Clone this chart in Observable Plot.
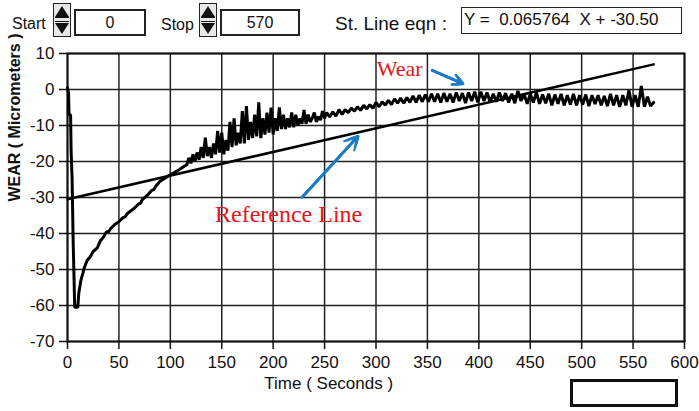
<!DOCTYPE html>
<html>
<head>
<meta charset="utf-8">
<script src="https://cdn.jsdelivr.net/npm/d3@7"></script>
<script src="https://cdn.jsdelivr.net/npm/@observablehq/plot@0.6"></script>
<style>
  html, body { margin: 0; padding: 0; background: #fff; }
  #wrap { position: relative; width: 699px; height: 411px; overflow: hidden; background: #fff; }
  .lab { position: absolute; font-family: "Liberation Sans", Arial, sans-serif; font-size: 16px; line-height: 16px; color: #111; white-space: pre; }
  .box { position: absolute; box-sizing: border-box; border: 2px solid #222; background: #fff;
         font-family: "Liberation Sans", Arial, sans-serif; font-size: 16px; color: #111;
         display: flex; align-items: center; justify-content: center; }
  .spin { position: absolute; box-sizing: border-box; width: 18px; height: 34px; border: 1.5px solid #222; background: #e8e8e8; }
  .spin .up { position: absolute; left: 1px; top: 2px; width: 0; height: 0; border-left: 7px solid transparent; border-right: 7px solid transparent; border-bottom: 11px solid #111; }
  .spin .dn { position: absolute; left: 1px; bottom: 2px; width: 0; height: 0; border-left: 7px solid transparent; border-right: 7px solid transparent; border-top: 11px solid #111; }
  .spin .mid { position: absolute; left: 1px; right: 1px; top: 13px; height: 3px; border-top: 1.5px solid #111; border-bottom: 1.5px solid #111; }
  #eqn { position: absolute; left: 461px; top: 7px; width: 221px; height: 27px; box-sizing: border-box; border: 1.5px solid #222;
         font-family: "Liberation Sans", Arial, sans-serif; font-size: 17px; line-height: 24px; padding-left: 2px; white-space: pre; color: #111; }
  #plot { position: absolute; left: 0; top: 45px; }
  #blank { position: absolute; left: 570px; top: 379px; width: 108px; height: 28px; box-sizing: border-box; border: 3px solid #111; background: #fff; }
</style>
</head>
<body>
<div id="wrap">
  <div class="lab" style="left:12px;top:16px;">Start</div>
  <div class="spin" style="left:53px;top:3px;"><div class="up"></div><div class="mid"></div><div class="dn"></div></div>
  <div class="box" style="left:74px;top:9px;width:72px;height:27px;" id="startBox"></div>
  <div class="lab" style="left:161px;top:17px;">Stop</div>
  <div class="spin" style="left:199px;top:3px;"><div class="up"></div><div class="mid"></div><div class="dn"></div></div>
  <div class="box" style="left:220px;top:9px;width:80px;height:27px;" id="stopBox"></div>
  <div class="lab" style="left:335px;top:14px;font-size:19px;line-height:19px;">St. Line eqn :</div>
  <div id="eqn"></div>
  <div id="plot"></div>
  <div id="blank"></div>
</div>
<script>
// ---- data ----
const startValue = "0";
const stopValue = "570";
const slope = "0.065764";
const intercept = "-30.50";

const xTicks = [0, 50, 100, 150, 200, 250, 300, 350, 400, 450, 500, 550, 600];
const yTicks = [-70, -60, -50, -40, -30, -20, -10, 0, 10];

// measured wear: [time (s), wear (µm)]
const wearPoints = [
  [0, 0.5], [1, -1], [1.5, -7], [3, -7], [3.5, -17], [4.5, -25], [5.5, -42], [7, -60.5], [10, -60.5],
  [11, -56.5], [13, -53], [15, -51], [16, -49.8], [19, -47.5], [22, -46.5], [25, -45], [29, -44], [32, -42],
  [35, -41], [38, -39.5], [40, -39.5], [42, -38.6], [46, -37.5], [50, -36.7], [54, -35.6], [56, -35.4], [58, -34.5], [62, -33.6],
  [65, -33], [69, -31.8], [71, -31.6], [73, -30.5], [78, -29.3], [82, -28], [84, -27.8], [86, -26.8], [90, -25.5], [94, -24.8],
  [98, -24], [103, -23.2], [108, -22.4], [112, -21.6], [116, -20.9],
  [118, -19], [120, -20.5], [122, -18], [124, -20], [126, -17.5], [128, -19.5], [130, -16], [132, -19],
  [134, -13.4], [136, -18.5], [138, -16], [140, -19], [142, -15], [144, -18], [146, -11.5], [148, -17.5],
  [150, -12], [152, -18], [154, -14], [156, -17], [158, -9], [160, -16], [162, -8], [164, -15.5],
  [166, -12], [168, -15], [170, -6], [172, -15], [174, -4.6], [176, -14], [178, -9], [180, -13.5],
  [182, -7], [184, -13], [186, -3.6], [188, -13.5], [190, -8], [192, -12.5], [194, -6.4], [196, -12],
  [198, -5], [200, -12.5], [202, -8], [204, -11.5], [206, -5], [208, -11], [210, -7], [212, -11],
  [214, -8], [216, -10.5], [218, -6.4], [220, -10.5], [222, -7], [224, -10], [226, -8], [228, -9.5],
  [230, -5.7], [232, -9.5], [234, -7], [236, -9], [238, -8], [240, -6.4], [242, -9], [244, -7.5],
  [246, -8.5], [248, -6], [250, -8], [252, -6.4], [255, -7.6], [258, -6.2], [261, -7.4], [264, -5.6],
  [267, -6.9], [270, -5.6], [273, -6.4], [276, -5.2], [279, -6], [282, -4.8], [285, -5.8], [288, -4.4],
  [291, -5.4], [294, -4.2], [297, -5.2], [300, -3.6], [303, -4.8], [306, -3.4], [309, -4.4], [312, -3],
  [315, -4.2], [318, -2.6], [321, -3.8], [324, -2.4], [327, -3.8], [330, -2.2], [333, -3.6], [336, -1.8],
  [339, -3.6], [342, -1.6], [345, -3.4], [348, -1.4], [351, -3.4], [354, -1.2], [357, -3.4],
  [360, -1.2], [363, -3.6], [366, -1], [369, -3.4], [372, -1.2], [375, -3.6], [378, -0.8], [381, -3.2],
  [384, -1], [387, -3.8], [390, -0.8], [393, -3.2], [396, -0.6], [399, -3.6], [402, -0.6], [405, -3.2],
  [408, -0.8], [411, -3.6], [414, -1.2], [417, -3.4], [420, -0.8], [423, -3.2], [426, -1], [429, -3.6],
  [432, -1.2], [435, -3.8], [438, -0.4], [441, -3.2], [444, -1.2], [447, -4], [450, -1.2], [453, -3.6],
  [456, -0.8], [459, -4], [462, -1.4], [465, -3.8], [468, -1.2], [471, -4.4], [474, -1.4], [477, -4],
  [480, -1.2], [483, -4.4], [486, -1.6], [489, -4.2], [492, -1.2], [495, -4.4], [498, -1.6], [501, -4.2],
  [504, -1.4], [507, -4.6], [510, -1.6], [513, -4], [516, -1.6], [519, -4.4], [522, -1.8], [525, -4.6],
  [528, -1.2], [531, -4.4], [534, -1.6], [537, -4.8], [540, -1.6], [543, -4.4], [546, -0.2], [549, -4.8],
  [552, -1.6], [555, -4.8], [558, 1], [561, -4.8], [564, -2], [567, -4.6], [570, -3.6]
];

// reference straight line endpoints (from the equation shown)
const refTime = [0, 570];
const refValue = [-30.5, 6.985];

// annotations (labels and arrow end points, in data units)
const notes = [
  {text: "Wear", t: 323, v: 5.6, size: 22},
  {text: "Reference Line", t: 215, v: -34.6, size: 24}
];
const arrows = [
  {t1: 354.7, v1: 5.3, t2: 384.5, v2: 1.6},
  {t1: 228.2, v1: -29.9, t2: 282.5, v2: -13}
];
const xTitle = "Time ( Seconds )";
const yTitle = "WEAR ( Micrometers )";
const xTitleAt = 254;

// ---- header widgets ----
document.getElementById("startBox").textContent = startValue;
document.getElementById("stopBox").textContent = stopValue;
document.getElementById("eqn").textContent = "Y =  " + slope + "  X + " + intercept;

const wear = wearPoints.map(([t, v]) => ({t, v}));
const ref = refTime.map((t, i) => ({t, v: refValue[i]}));
const blue = "#1b7cc4";

const chart = Plot.plot({
  width: 699,
  height: 366,
  marginTop: 8,
  marginBottom: 70,
  marginLeft: 67,
  marginRight: 15,
  x: {domain: [0, 600]},
  y: {domain: [-70, 10]},
  style: {
    fontFamily: "'Liberation Sans', Arial, sans-serif",
    fontSize: "17px",
    color: "#111",
    background: "white",
    overflow: "visible"
  },
  marks: [
    Plot.gridX(xTicks, {stroke: "#222", strokeOpacity: 1, strokeWidth: 1.5}),
    Plot.gridY(yTicks, {stroke: "#222", strokeOpacity: 1, strokeWidth: 1.5}),
    Plot.frame({stroke: "#111", strokeWidth: 2}),
    Plot.axisX(xTicks, {tickSize: 8, tickPadding: 6, label: null, tickFormat: d => String(d), strokeWidth: 1.5}),
    Plot.axisY(yTicks, {tickSize: 8, tickPadding: 5, label: null, tickFormat: d => String(d), strokeWidth: 1.5}),
    Plot.text([xTitle], {x: xTitleAt, frameAnchor: "bottom", dy: 47, fontSize: 17}),
    Plot.text([yTitle], {frameAnchor: "left", rotate: -90, dx: -53, dy: 4, fontWeight: "bold", fontSize: 16}),
    Plot.line(ref, {x: "t", y: "v", stroke: "#000", strokeWidth: 2.5}),
    Plot.line(wear, {x: "t", y: "v", stroke: "#000", strokeWidth: 3, strokeLinejoin: "miter"}),
    Plot.text(notes, {x: "t", y: "v", text: "text", fontSize: "size", fill: "#e8141b",
      fontFamily: "'Liberation Serif', 'Times New Roman', serif"}),
    Plot.arrow(arrows, {x1: "t1", y1: "v1", x2: "t2", y2: "v2", stroke: blue, strokeWidth: 2, headLength: 11, headAngle: 55}),
    Plot.arrow(arrows, {x1: "t1", y1: "v1", x2: "t2", y2: "v2", stroke: blue, strokeWidth: 2.5, headLength: 7, headAngle: 55}),
    Plot.arrow(arrows, {x1: "t1", y1: "v1", x2: "t2", y2: "v2", stroke: blue, strokeWidth: 3, headLength: 3.5, headAngle: 55})
  ]
});
document.getElementById("plot").appendChild(chart);
</script>
</body>
</html>
